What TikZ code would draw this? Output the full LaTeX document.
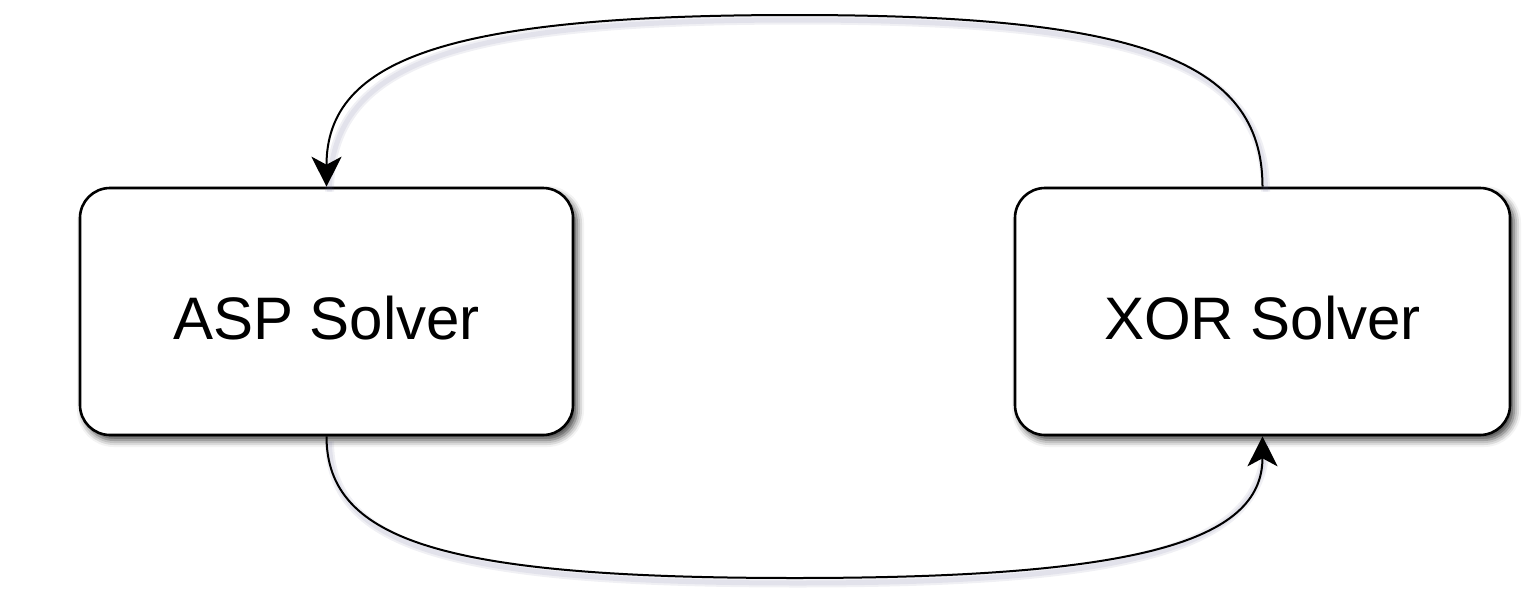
\documentclass[tikz,border=0pt]{standalone}
\usepackage{fontspec}
\setmainfont{Liberation Sans}
\usetikzlibrary{arrows.meta,shadows.blur,calc}

\definecolor{shadowcol}{RGB}{105,105,150}

\tikzset{
  every shadow/.append style={fill=shadowcol},
  solverbox/.style={
    blur shadow={shadow xshift=4pt, shadow yshift=-5pt,
                 shadow blur radius=7pt, shadow opacity=75},
    draw=black, line width=2.6pt, fill=white,
    rounded corners=30pt,
    minimum width=#1, minimum height=247pt, inner sep=0pt,
    text height=55pt, text depth=0pt,
    font=\fontsize{60}{72}\selectfont
  },
  link/.style={
    draw=black, line width=2pt,
    -{Stealth[length=30pt, width=30pt, inset=8pt]}
  },
  linkshade/.style={
    draw=shadowcol, line width=#1, opacity=0.10,
    transform canvas={shift={(3pt,-5pt)}}
  }
}

\begin{document}
\begin{tikzpicture}[x=1pt, y=-1pt]
  \useasboundingbox (0,0) rectangle (1527,592);

  % the two solvers
  \node[solverbox=493pt] (asp) at (326.5,311.5) {ASP Solver};
  \node[solverbox=495pt] (xor) at (1262.5,311.5) {XOR Solver};

  % turning points of the two arcs
  \coordinate (ctop) at (795,15);
  \coordinate (cbot) at (795,578);

  % soft shadows under the arcs
  \foreach \w in {9pt,5pt} {
    \path[linkshade=\w] (xor.north) .. controls +(0,-128) and +(340,0) .. (ctop)
          .. controls +(-346,0) and +(0,-128) .. (asp.north);
    \path[linkshade=\w] (asp.south) .. controls +(0,106) and +(-346,0) .. (cbot)
          .. controls +(340,0) and +(0,106) .. (xor.south);
  }

  % XOR solver feeds back into the ASP solver
  \draw[link] (xor.north) .. controls +(0,-128) and +(340,0) .. (ctop)
        .. controls +(-346,0) and +(0,-128) .. (asp.north);

  % ASP solver hands over to the XOR solver
  \draw[link] (asp.south) .. controls +(0,106) and +(-346,0) .. (cbot)
        .. controls +(340,0) and +(0,106) .. (xor.south);
\end{tikzpicture}
\end{document}
